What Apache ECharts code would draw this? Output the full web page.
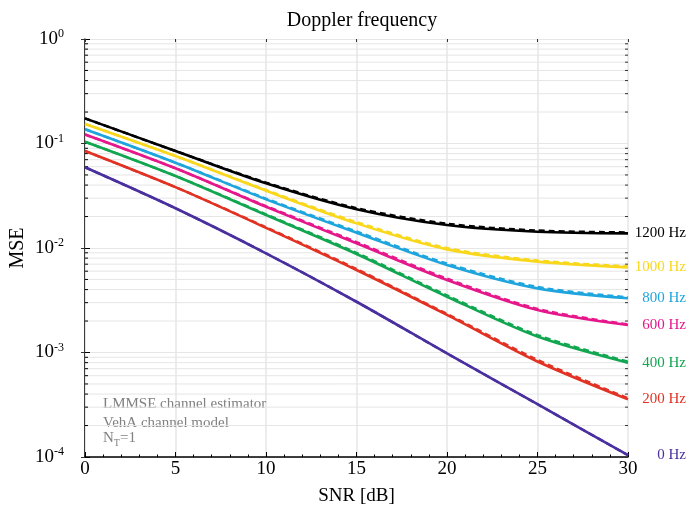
<!DOCTYPE html>
<html><head><meta charset="utf-8">
<script src="https://cdn.jsdelivr.net/npm/echarts@6/dist/echarts.min.js"></script>
<style>html,body{margin:0;padding:0;background:#fff}#c{width:688px;height:506px}</style>
</head><body><div id="c"></div>
<script>
const snr = [0, 5, 10, 15, 20, 25, 30];
const labels = ['1200 Hz', '1000 Hz', '800 Hz', '600 Hz', '400 Hz', '200 Hz', '0 Hz'];
const colors = ['#000000', '#f9d71c', '#1fa5dd', '#e5178b', '#12a651', '#e13223', '#4a2f9f'];
const solid1200 = [0.174, 0.0848, 0.0416, 0.0235, 0.0166, 0.0143, 0.0138];
const solid1000 = [0.154, 0.0759, 0.0353, 0.0172, 0.0097, 0.0074, 0.00653];
const solid800 = [0.137, 0.0655, 0.0292, 0.0140, 0.00688, 0.00411, 0.0033];
const solid600 = [0.122, 0.0579, 0.0248, 0.0111, 0.00494, 0.00255, 0.00183];
const solid400 = [0.104, 0.0489, 0.0207, 0.00877, 0.00342, 0.00142, 0.000798];
const solid200 = [0.0848, 0.0382, 0.0156, 0.00616, 0.00229, 0.00082, 0.000356];
const solid0 = [0.0592, 0.024, 0.0089, 0.00306, 0.00098, 0.00032, 0.000104];
const dash1200 = [0.174, 0.0848, 0.0423, 0.0241, 0.0171, 0.0147, 0.0141];
const dash1000 = [0.154, 0.0759, 0.0359, 0.0177, 0.0100, 0.0076, 0.00668];
const dash800 = [0.137, 0.0655, 0.0297, 0.0144, 0.0071, 0.00424, 0.00338];
const dash600 = [0.122, 0.0579, 0.0252, 0.0114, 0.0051, 0.00262, 0.00186];
const dash400 = [0.104, 0.0489, 0.0210, 0.0090, 0.00352, 0.00147, 0.00082];
const dash200 = [0.0848, 0.0382, 0.0158, 0.0063, 0.00234, 0.00085, 0.000365];
const dash0 = [0.0592, 0.024, 0.0089, 0.00306, 0.00098, 0.00032, 0.000104];
const minorY = [];
[1e-4, 1e-3, 1e-2, 1e-1].forEach(d => { for (let k = 2; k <= 9; k++) minorY.push(+(k * d).toPrecision(2)); });

const solids = [solid1200, solid1000, solid800, solid600, solid400, solid200, solid0];
const dashes = [dash1200, dash1000, dash800, dash600, dash400, dash200, dash0];
const FONT = 'Liberation Serif';

const series = [];
series.push({
  type: 'custom', z: 1, silent: true,
  data: minorY.map(v => [v]),
  renderItem: (params, api) => {
    const v = api.value(0);
    const a = api.coord([0, v]), b = api.coord([30, v]);
    return { type: 'group', children: [
      { type: 'line', shape: { x1: a[0], y1: a[1], x2: b[0], y2: b[1] }, style: { stroke: '#e6e6e6', lineWidth: 1 } },
      { type: 'line', shape: { x1: a[0], y1: a[1], x2: a[0] + 3, y2: a[1] }, style: { stroke: '#000', lineWidth: 1 } },
      { type: 'line', shape: { x1: b[0] - 3, y1: b[1], x2: b[0], y2: b[1] }, style: { stroke: '#333', lineWidth: 1 } }
    ]};
  }
});
solids.forEach((arr, i) => {
  series.push({
    type: 'line', name: labels[i] + ' s', z: 3, data: snr.map((x, j) => [x, arr[j]]),
    smooth: 0.3, showSymbol: false, silent: true,
    lineStyle: { color: colors[i], width: 2.6, type: 'solid' }
  });
  series.push({
    type: 'line', name: labels[i] + ' d', z: 4, data: snr.map((x, j) => [x, dashes[i][j]]),
    smooth: 0.3, showSymbol: false, silent: true,
    lineStyle: { color: colors[i], width: 2.4, type: [6, 4] }
  });
});

const chart = echarts.init(document.getElementById('c'));
chart.setOption({
  animation: false,
  backgroundColor: '#fff',
  title: { text: 'Doppler frequency', left: 357, top: 6, textAlign: 'center',
    textStyle: { fontFamily: FONT, fontSize: 20, fontWeight: 'normal', color: '#000' } },
  grid: { left: 85, right: 60, top: 39, bottom: 49, containLabel: false, outerBoundsMode: 'none' },
  xAxis: [{
    type: 'value', min: 0, max: 30, interval: 5,
    name: 'SNR [dB]', nameLocation: 'middle', nameGap: 30, nameMoveOverlap: false,
    nameTextStyle: { fontFamily: FONT, fontSize: 19, color: '#000' },
    axisLine: { onZero: false, lineStyle: { color: '#000', width: 1.5 } },
    axisTick: { inside: true, length: 5, lineStyle: { color: '#000' } },
    minorTick: { show: true, splitNumber: 5, length: 2.5, lineStyle: { color: '#000' } },
    axisLabel: { fontFamily: FONT, fontSize: 19, color: '#000', margin: 3 },
    splitLine: { show: true, lineStyle: { color: '#e6e6e6', width: 1.5 } }
  }, {
    type: 'value', position: 'top', min: 0, max: 30, interval: 5,
    axisLine: { show: true, lineStyle: { color: '#e6e6e6', width: 1 } },
    axisTick: { inside: true, length: 3, lineStyle: { color: '#333' } },
    axisLabel: { show: false }, splitLine: { show: false }
  }],
  yAxis: [{
    type: 'log', min: 1e-4, max: 1, logBase: 10,
    name: 'MSE', nameLocation: 'middle', nameGap: 57, nameRotate: 90, nameMoveOverlap: false,
    nameTextStyle: { fontFamily: FONT, fontSize: 20, color: '#000' },
    axisLine: { onZero: false, lineStyle: { color: '#000', width: 1.5 } },
    axisTick: { inside: true, length: 5, lineStyle: { color: '#000' } },
    axisLabel: {
      margin: 21, color: '#000',
      formatter: v => '{b|10}{s|' + Math.round(Math.log10(v)) + '}',
      rich: {
        b: { fontFamily: FONT, fontSize: 19, color: '#000' },
        s: { fontFamily: FONT, fontSize: 12, color: '#000', verticalAlign: 'bottom', padding: [0, 0, 10, 0] }
      }
    },
    splitLine: { show: true, lineStyle: { color: '#e6e6e6', width: 1 } }
  }, {
    type: 'log', min: 1e-4, max: 1, logBase: 10, position: 'right',
    axisLine: { show: true, lineStyle: { color: '#e6e6e6', width: 1 } },
    axisTick: { inside: true, length: 4, lineStyle: { color: '#333' } },
    axisLabel: { show: false }, splitLine: { show: false }
  }],
  series: series
});

const lastIdx = snr.length - 1;
const gfx = solids.map((arr, i) => {
  const p = chart.convertToPixel({ xAxisIndex: 0, yAxisIndex: 0 }, [snr[lastIdx], arr[lastIdx]]);
  return { type: 'text', x: 686, y: p[1], silent: true,
    style: { text: labels[i], fill: colors[i], font: '15px "' + FONT + '"', textAlign: 'right', textVerticalAlign: 'middle' } };
});
gfx.push({ type: 'text', left: 103, top: 395, silent: true,
  style: { text: 'LMMSE channel estimator\nVehA channel model', fill: '#808080', font: '15px "' + FONT + '"', lineHeight: 18.5 } });
gfx.push({ type: 'text', left: 103, top: 431, silent: true,
  style: { text: '{n|N}{t|T}{n|=1}', fill: '#808080',
    rich: { n: { fontFamily: FONT, fontSize: 15, fill: '#808080' },
            t: { fontFamily: FONT, fontSize: 10, fill: '#808080', verticalAlign: 'top', padding: [9, 0, 0, 0] } } } });
chart.setOption({ graphic: gfx });
</script>
</body></html>
